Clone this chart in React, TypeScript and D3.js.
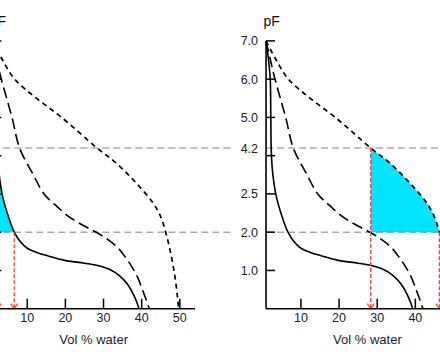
import { useRef, useEffect } from "react";
import * as d3 from "d3";

// water retention curves: [vol % water, pF]
const solidCurve: [number, number][] = [
  [0.85, 7], [1.5, 6.5], [1.95, 6], [2.1, 5], [2.2, 4.2], [2.45, 3.7], [2.9, 3.3],
  [3.5, 2.95], [4.6, 2.55], [6.6, 2.0], [8.2, 1.75], [10, 1.58], [12.5, 1.47],
  [15.5, 1.38], [19.5, 1.27], [25, 1.19], [28.5, 1.13], [31.5, 1.03], [34, 0.88],
  [36.2, 0.65], [37.8, 0.38], [38.8, 0.15], [39.3, 0],
];
const longDashCurve: [number, number][] = [
  [0.85, 7], [2, 6.5], [3.2, 6], [6, 5], [8, 4.2], [11.6, 3.5], [14.4, 3.0],
  [17.5, 2.7], [21, 2.4], [24.6, 2.18], [28.1, 2.0], [31, 1.82], [33.7, 1.6],
  [35.7, 1.35], [37.4, 1.1], [38.8, 0.85], [40.2, 0.5], [41.3, 0.2], [42, 0],
];
const shortDashCurve: [number, number][] = [
  [0.85, 7], [3.5, 6.5], [6.7, 6], [11.9, 5.54], [19, 5], [28.3, 4.2], [33.4, 3.8],
  [38.6, 3.28], [43, 2.76], [45, 2.4], [46.3, 2.0], [47.6, 1.46], [48.7, 0.86],
  [49.4, 0.3], [49.7, 0],
];

const pfTicks = [1, 2, 3, 4, 5, 6, 7];
const pfLabels = [
  { value: 7, text: "7.0" },
  { value: 6, text: "6.0" },
  { value: 5, text: "5.0" },
  { value: 4.2, text: "4.2" },
  { value: 3, text: "2.5" },
  { value: 2, text: "2.0" },
  { value: 1, text: "1.0" },
];
const volTicks = [10, 20, 30, 40, 50];
const refLevels = [4.2, 2.0];

// water content at pF 4.2 and pF 2.0 for the shaded soil of each panel
const leftAvailable = [2.2, 6.6];
const rightAvailable = [28.3, 46.3];

const VOL_MIN = 0.85;
const VOL_MAX = 54;

const App = () => {
  const svgRef = useRef(null);

  useEffect(() => {
    const svg = d3.select(svgRef.current);
    svg.selectAll("*").remove();

    const width = 440;
    const height = 352;
    const x = d3.scaleLinear().domain([0, 50]).range([0, 190.7]);
    const y = d3.scaleLinear().domain([0, 7]).range([308.7, 40.9]);
    const font = "Liberation Sans, Arial, sans-serif";

    const line = d3
      .line<[number, number]>()
      .x((d) => x(d[0]))
      .y((d) => y(d[1]))
      .curve(d3.curveCatmullRom.alpha(0.5));

    const drawPanel = (
      offset: number,
      id: string,
      fillCurve: [number, number][],
      avail: number[],
      showPfLabels: boolean
    ) => {
      const g = svg.append("g").attr("transform", `translate(${offset},0)`);

      // shaded available water: area under the curve, clipped to the pF 2.0 - 4.2 band
      svg
        .append("defs")
        .append("clipPath")
        .attr("id", id)
        .append("rect")
        .attr("x", x(avail[0]))
        .attr("y", y(refLevels[0]))
        .attr("width", x(avail[1]) - x(avail[0]) + 5)
        .attr("height", y(refLevels[1]) - y(refLevels[0]));

      g.append("path")
        .attr("d", line(fillCurve) + `L${x(VOL_MIN)},${y(0)}Z`)
        .attr("fill", "#00e5ff")
        .attr("clip-path", `url(#${id})`);

      // reference pF lines
      g.selectAll(".ref")
        .data(refLevels)
        .join("line")
        .attr("x1", x(VOL_MIN))
        .attr("x2", x(64))
        .attr("y1", (d) => y(d))
        .attr("y2", (d) => y(d))
        .attr("stroke", "#808080")
        .attr("stroke-width", 1)
        .attr("stroke-dasharray", "7,4");

      // curves
      g.append("path")
        .attr("d", line(solidCurve))
        .attr("fill", "none")
        .attr("stroke", "#000")
        .attr("stroke-width", 1.6);
      g.append("path")
        .attr("d", line(longDashCurve))
        .attr("fill", "none")
        .attr("stroke", "#000")
        .attr("stroke-width", 1.6)
        .attr("stroke-dasharray", "11,5");
      g.append("path")
        .attr("d", line(shortDashCurve))
        .attr("fill", "none")
        .attr("stroke", "#000")
        .attr("stroke-width", 1.7)
        .attr("stroke-dasharray", "5,4");

      // red drop lines with arrowheads
      avail.forEach((v, i) => {
        const px = x(v);
        g.append("line")
          .attr("x1", px)
          .attr("x2", px)
          .attr("y1", y(refLevels[i]))
          .attr("y2", y(0) - 1)
          .attr("stroke", "#ff3b3b")
          .attr("stroke-width", 1.3)
          .attr("stroke-dasharray", "4,2");
        g.append("path")
          .attr("d", `M${px - 3.5},${y(0) - 5}L${px},${y(0)}L${px + 3.5},${y(0) - 5}`)
          .attr("fill", "none")
          .attr("stroke", "#ff3b3b")
          .attr("stroke-width", 1.3);
      });

      // axes
      const ax = x(VOL_MIN);
      g.append("line")
        .attr("x1", ax)
        .attr("x2", ax)
        .attr("y1", y(7))
        .attr("y2", y(0))
        .attr("stroke", "#000")
        .attr("stroke-width", 1.6);
      g.append("line")
        .attr("x1", ax)
        .attr("x2", x(VOL_MAX))
        .attr("y1", y(0))
        .attr("y2", y(0))
        .attr("stroke", "#000")
        .attr("stroke-width", 1.6);

      g.selectAll(".ytick")
        .data(pfTicks)
        .join("line")
        .attr("x1", ax)
        .attr("x2", ax + 9)
        .attr("y1", (d) => y(d))
        .attr("y2", (d) => y(d))
        .attr("stroke", "#000")
        .attr("stroke-width", 1.5);

      // the left panel's pF labels sit outside the cropped picture
      if (showPfLabels) {
        g.selectAll(".ylabel")
          .data(pfLabels)
          .join("text")
          .attr("x", ax - 8)
          .attr("y", (d) => y(d.value))
          .attr("dy", "0.36em")
          .attr("text-anchor", "end")
          .attr("font-family", font)
          .attr("font-size", 12.5)
          .attr("fill", "#222")
          .text((d) => d.text);
      }

      g.selectAll(".xtick")
        .data(volTicks)
        .join("line")
        .attr("x1", (d) => x(d))
        .attr("x2", (d) => x(d))
        .attr("y1", y(0))
        .attr("y2", y(0) - 10)
        .attr("stroke", "#000")
        .attr("stroke-width", 1.5);
      g.selectAll(".xlabel")
        .data(volTicks.filter((d) => offset + x(d) < width))
        .join("text")
        .attr("x", (d) => x(d))
        .attr("y", y(0) + 13.6)
        .attr("text-anchor", "middle")
        .attr("font-family", font)
        .attr("font-size", 12.5)
        .attr("fill", "#222")
        .text((d) => d);

      g.append("text")
        .attr("x", ax - 2.5)
        .attr("y", 26)
        .attr("font-family", font)
        .attr("font-size", 14)
        .attr("fill", "#111")
        .text("pF");
      g.append("text")
        .attr("x", (x(VOL_MIN) + x(VOL_MAX)) / 2)
        .attr("y", 344)
        .attr("text-anchor", "middle")
        .attr("font-family", font)
        .attr("font-size", 13)
        .attr("fill", "#222")
        .text("Vol % water");
    };

    svg.attr("width", width).attr("height", height);
    drawPanel(-10.9, "clipLeft", solidCurve, leftAvailable, false);
    drawPanel(262.8, "clipRight", shortDashCurve, rightAvailable, true);
  }, []);

  return (
    <svg
      ref={svgRef}
      width={440}
      height={352}
      style={{ position: "absolute", left: 0, top: 0, background: "#fff" }}
    ></svg>
  );
};

export default App;
